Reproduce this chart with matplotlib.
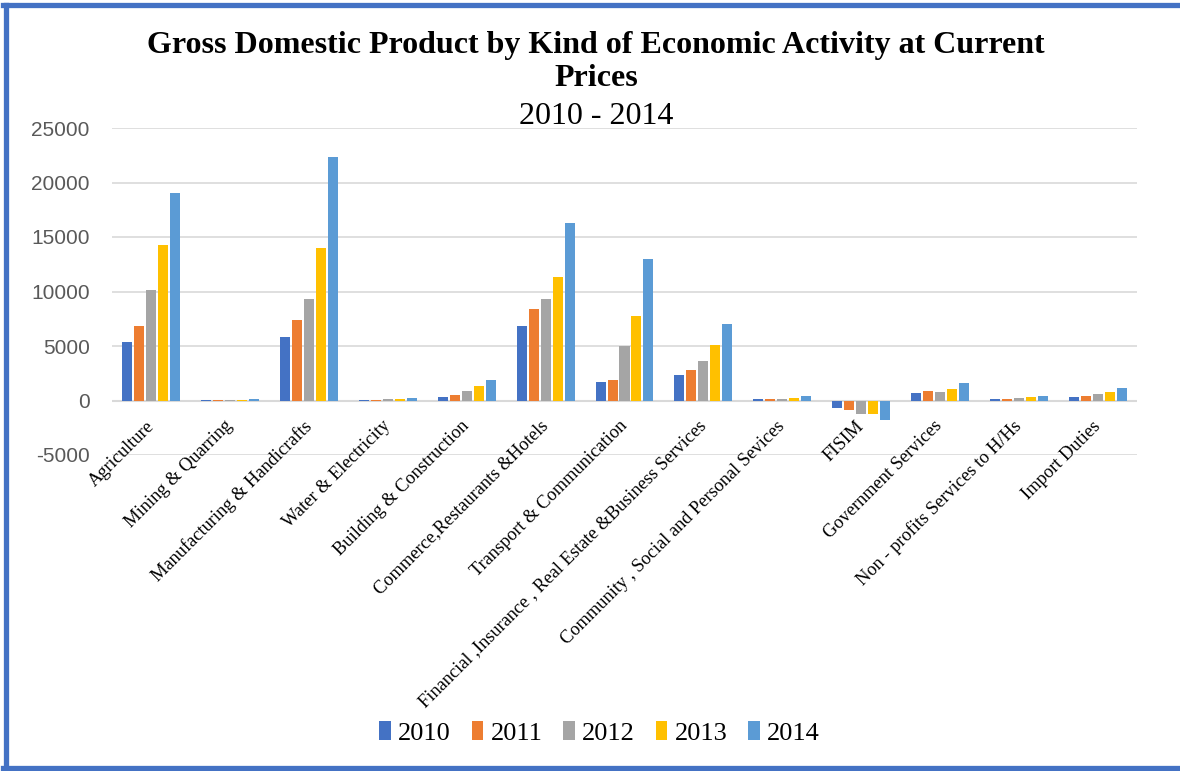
import numpy as np
import matplotlib
matplotlib.use("Agg")
import matplotlib.pyplot as plt
from matplotlib.lines import Line2D
from matplotlib.transforms import ScaledTranslation

plt.rcParams["axes.unicode_minus"] = False

categories = ["Agriculture", "Mining & Quarring", "Manufacturing & Handicrafts",
              "Water & Electricity", "Building & Construction",
              "Commerce,Restaurants &Hotels", "Transport & Communication",
              "Financial ,Insurance , Real Estate &Business Services",
              "Community , Social and Personal Sevices", "FISIM",
              "Government Services", "Non - profits Services to H/Hs",
              "Import Duties"]

years = ["2010", "2011", "2012", "2013", "2014"]

v2010 = [5400, 20, 5860, 80, 300, 6870, 1740, 2380, 100, -730, 670, 120, 280]
v2011 = [6870, 20, 7420, 90, 500, 8420, 1920, 2840, 120, -900, 850, 120, 400]
v2012 = [10160, 30, 9340, 100, 850, 9340, 5040, 3660, 130, -1250, 800, 200, 600]
v2013 = [14290, 40, 14010, 120, 1300, 11360, 7780, 5130, 230, -1250, 1100, 280, 820]
v2014 = [19050, 150, 22340, 200, 1900, 16300, 13000, 7050, 400, -1780, 1650, 400, 1170]

series = [v2010, v2011, v2012, v2013, v2014]
colors = ["#4472C4", "#ED7D31", "#A5A5A5", "#FFC000", "#5B9BD5"]

fig = plt.figure(figsize=(11.8, 7.71), dpi=100)
ax = fig.add_axes([112 / 1180, 1 - 455 / 771, (1137 - 112) / 1180, (455 - 128) / 771])

x = np.arange(len(categories))
pitch = 0.152
width = 0.127
for i, (vals, c) in enumerate(zip(series, colors)):
    ax.bar(x + (i - 2) * pitch, vals, width, color=c, label=years[i], zorder=3)

ax.set_xlim(-0.5, len(categories) - 0.5)
ax.set_ylim(-5000, 25000)
ax.set_yticks(np.arange(-5000, 25001, 5000))
ax.grid(axis="y", color="#d9d9d9", linewidth=1.2, zorder=0)
for s in ["top", "right", "left", "bottom"]:
    ax.spines[s].set_visible(False)
ax.axhline(0, color="#d9d9d9", linewidth=1.5, zorder=2)
ax.tick_params(axis="y", length=0, pad=16, labelsize=15, labelcolor="#595959")
for lab in ax.get_yticklabels():
    lab.set_family("Liberation Sans")

# category labels hang from the zero line
ax.set_xticks([])
offset = ScaledTranslation(-6 / 100, -17 / 100, fig.dpi_scale_trans)
for xi, name in zip(x, categories):
    ax.text(xi, 0, name, rotation=45, rotation_mode="anchor", ha="right", va="top",
            fontsize=13.2, family="Liberation Serif",
            transform=ax.transData + offset)

fig.text(0.505, 1 - 45 / 771, "Gross Domestic Product by Kind of Economic Activity at Current",
         ha="center", va="center", fontsize=23, fontweight="bold", family="Liberation Serif")
fig.text(0.505, 1 - 78 / 771, "Prices", ha="center", va="center", fontsize=23,
         fontweight="bold", family="Liberation Serif")
fig.text(0.505, 1 - 117 / 771, "2010 - 2014", ha="center", va="center", fontsize=23,
         family="Liberation Serif")

leg = fig.legend(loc="center", bbox_to_anchor=(0.508, 1 - 733 / 771), ncol=5, frameon=False,
                 prop={"family": "Liberation Serif", "size": 19},
                 handlelength=0.45, handleheight=0.7, handletextpad=0.27, columnspacing=0.78)

bc = "#4472C4"
fig.add_artist(Line2D([5.5 / 1180, 5.5 / 1180], [1 - 4.5 / 771, 1 - 767.5 / 771],
                      transform=fig.transFigure, color=bc, linewidth=3.8))
fig.add_artist(Line2D([3 / 1180, 1.0], [1 - 4.5 / 771, 1 - 4.5 / 771],
                      transform=fig.transFigure, color=bc, linewidth=3.8))
fig.add_artist(Line2D([3 / 1180, 1.0], [1 - 767.5 / 771, 1 - 767.5 / 771],
                      transform=fig.transFigure, color=bc, linewidth=3.8))

fig.savefig("out.png", dpi=100)
